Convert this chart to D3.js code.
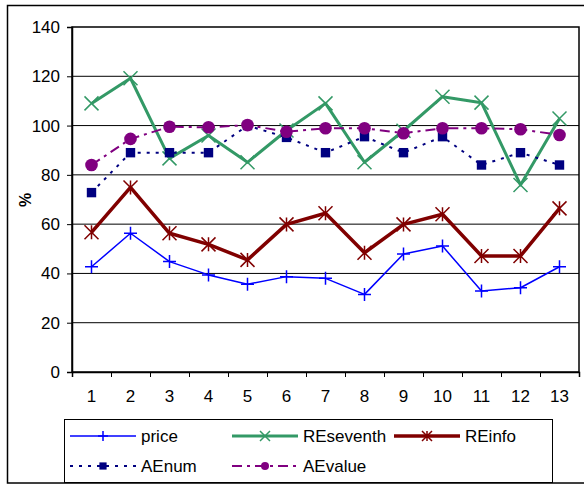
<!DOCTYPE html>
<html>
<head>
<meta charset="utf-8">
<script src="https://cdn.jsdelivr.net/npm/d3@7"></script>
<style>
  html, body { margin: 0; padding: 0; background: #fff; }
  svg { display: block; font-family: Arial, "Liberation Sans", sans-serif; }
</style>
</head>
<body>
<svg id="chart" width="584" height="485"></svg>
<script>
// Category labels along the x axis
const categories = ["1", "2", "3", "4", "5", "6", "7", "8", "9", "10", "11", "12", "13"];

// Series values (%)
const price     = [42.7, 56.3, 44.8, 39.4, 35.6, 38.7, 38.0, 31.5, 47.9, 51.1, 32.9, 34.2, 42.7];
const REseventh = [109.0, 119.2, 86.7, 96.0, 85.1, 98.0, 109.0, 85.1, 97.9, 111.7, 109.3, 75.9, 102.9];
const REinfo    = [56.7, 74.9, 56.3, 51.8, 45.5, 59.9, 64.4, 48.4, 59.9, 64.0, 47.1, 47.1, 66.4];
const AEnum     = [72.8, 89.0, 89.0, 89.0, 100.0, 95.2, 89.0, 95.5, 89.0, 95.5, 84.0, 89.0, 84.0];
const AEvalue   = [84.0, 94.6, 99.5, 99.3, 100.2, 97.5, 98.9, 98.9, 96.9, 98.9, 98.9, 98.5, 96.2];

// Y axis ticks
const yTicks = [0, 20, 40, 60, 80, 100, 120, 140];

const seriesNames = ["price", "REseventh", "REinfo", "AEnum", "AEvalue"];
const seriesValues = [price, REseventh, REinfo, AEnum, AEvalue];

// Drawing styles per series
const styles = {
  price:     { color: "#0000FF", width: 1.5, dash: null,        marker: "plus" },
  REseventh: { color: "#339966", width: 3,   dash: null,        marker: "x" },
  REinfo:    { color: "#800000", width: 3.5, dash: null,        marker: "star" },
  AEnum:     { color: "#000080", width: 2,   dash: "3,6",       marker: "square" },
  AEvalue:   { color: "#800080", width: 2,   dash: "10,5,3,5",  marker: "circle" }
};

const svg = d3.select("#chart");
const plot = { left: 72, right: 579, top: 27, bottom: 372 };

const x = d3.scaleBand().domain(categories).range([plot.left, plot.right]).padding(0);
const xEdge = d3.scaleLinear().domain([0, categories.length]).range([plot.left, plot.right]);
const y = d3.scaleLinear().domain([0, 140]).range([plot.bottom, plot.top]);
const cx = c => x(c) + x.bandwidth() / 2;

// Outer chart frame
svg.append("rect")
  .attr("x", 7.5).attr("y", 5.5)
  .attr("width", 600).attr("height", 477.5)
  .attr("fill", "#fff").attr("stroke", "#000").attr("stroke-width", 1.5);

// Horizontal gridlines
svg.append("g")
  .selectAll("line")
  .data(yTicks.filter(t => t > 0 && t < 140))
  .join("line")
  .attr("x1", plot.left).attr("x2", plot.right)
  .attr("y1", d => y(d)).attr("y2", d => y(d))
  .attr("stroke", "#000").attr("stroke-width", 1);

// Plot area border
svg.append("rect")
  .attr("x", plot.left).attr("y", plot.top)
  .attr("width", plot.right - plot.left).attr("height", plot.bottom - plot.top)
  .attr("fill", "none").attr("stroke", "#000").attr("stroke-width", 1.5);

// Y axis
const yAxis = svg.append("g")
  .attr("transform", `translate(${plot.left},0)`)
  .call(d3.axisLeft(y).tickValues(yTicks).tickSize(5).tickPadding(7));
yAxis.select(".domain").attr("stroke", "#000").attr("stroke-width", 1.5);
yAxis.selectAll(".tick line").attr("stroke", "#000");
yAxis.selectAll("text").attr("font-size", 17).attr("fill", "#000")
  .attr("font-family", "Arial, 'Liberation Sans', sans-serif");

// X axis: tick marks on category boundaries
const xTicks = svg.append("g")
  .attr("transform", `translate(0,${plot.bottom})`)
  .call(d3.axisBottom(xEdge).tickValues(d3.range(categories.length + 1)).tickSize(5).tickFormat(""));
xTicks.select(".domain").attr("stroke", "#000").attr("stroke-width", 1.5);
xTicks.selectAll(".tick line").attr("stroke", "#000");

// X axis: category labels centred in each band
const xLabels = svg.append("g")
  .attr("transform", `translate(0,${plot.bottom})`)
  .call(d3.axisBottom(x).tickSize(0).tickPadding(18));
xLabels.select(".domain").remove();
xLabels.selectAll("text").attr("font-size", 17).attr("fill", "#000")
  .attr("font-family", "Arial, 'Liberation Sans', sans-serif");

// Y axis title
svg.append("text")
  .attr("transform", "translate(31,200) rotate(-90)")
  .attr("text-anchor", "middle")
  .attr("font-size", 16).attr("font-weight", "bold")
  .text("%");

// Marker drawing
function drawMarker(g, type, color, s) {
  if (type === "plus") {
    g.append("path").attr("d", `M${-s},0H${s}M0,${-s}V${s}`)
      .attr("stroke", color).attr("stroke-width", 1.5).attr("fill", "none");
  } else if (type === "x") {
    g.append("path").attr("d", `M${-s},${-s}L${s},${s}M${-s},${s}L${s},${-s}`)
      .attr("stroke", color).attr("stroke-width", 1.5).attr("fill", "none");
  } else if (type === "star") {
    g.append("path").attr("d", `M${-s},${-s}L${s},${s}M${-s},${s}L${s},${-s}M0,${-s}V${s}`)
      .attr("stroke", color).attr("stroke-width", 1.5).attr("fill", "none");
  } else if (type === "square") {
    g.append("rect").attr("x", -s).attr("y", -s).attr("width", 2 * s).attr("height", 2 * s)
      .attr("fill", color);
  } else if (type === "circle") {
    g.append("circle").attr("r", s).attr("fill", color);
  }
}
const markerSize = { plus: 6.5, x: 7, star: 7, square: 4.7, circle: 6.3 };
const legendMarkerSize = { plus: 5, x: 5, star: 5, square: 3.6, circle: 4 };

const line = d3.line().x(d => cx(d.c)).y(d => y(d.v));

seriesNames.forEach((name, i) => {
  const st = styles[name];
  const pts = categories.map((c, j) => ({ c, v: seriesValues[i][j] }));
  const g = svg.append("g").attr("class", "series-" + name);
  g.append("path")
    .attr("d", line(pts))
    .attr("fill", "none")
    .attr("stroke", st.color)
    .attr("stroke-width", st.width)
    .attr("stroke-linejoin", "round")
    .attr("stroke-dasharray", st.dash);
  pts.forEach(p => {
    const m = g.append("g").attr("transform", `translate(${cx(p.c)},${y(p.v)})`);
    drawMarker(m, st.marker, st.color, markerSize[st.marker]);
  });
});

// Legend
const legend = svg.append("g");
legend.append("rect")
  .attr("x", 64.5).attr("y", 419.5).attr("width", 488).attr("height", 63)
  .attr("fill", "#fff").attr("stroke", "#000").attr("stroke-width", 1);

const colX = [70, 232, 394];
const rowY = [436, 466];
seriesNames.forEach((name, i) => {
  const st = styles[name];
  const lx = colX[i % 3], ly = rowY[Math.floor(i / 3)];
  const item = legend.append("g").attr("transform", `translate(${lx},${ly})`);
  item.append("line")
    .attr("x1", 0).attr("x2", 66).attr("y1", 0).attr("y2", 0)
    .attr("stroke", st.color).attr("stroke-width", st.width)
    .attr("stroke-dasharray", st.dash);
  const m = item.append("g").attr("transform", "translate(33,0)");
  drawMarker(m, st.marker, st.color, legendMarkerSize[st.marker]);
  item.append("text")
    .attr("x", 71).attr("y", 6)
    .attr("font-size", 17)
    .attr("fill", "#000")
    .text(name);
});
</script>
</body>
</html>
